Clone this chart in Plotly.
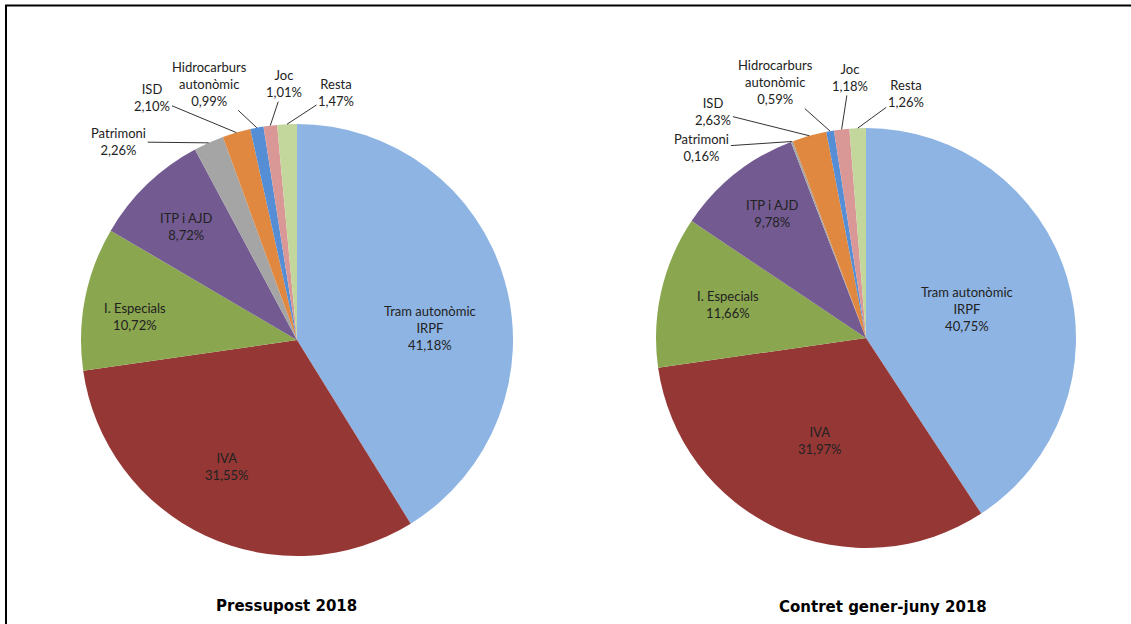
import numpy as np
import plotly.graph_objects as go

W, H = 1131, 624

labels = ["Tram autonòmic<br>IRPF", "IVA", "I. Especials", "ITP i AJD", "Patrimoni",
          "ISD", "Hidrocarburs<br>autonòmic", "Joc", "Resta"]
pressupost = [41.18, 31.55, 10.72, 8.72, 2.26, 2.10, 0.99, 1.01, 1.47]
contret = [40.75, 31.97, 11.66, 9.78, 0.16, 2.63, 0.59, 1.18, 1.26]
titles = ["Pressupost 2018", "Contret gener-juny 2018"]

colors = ["#8EB4E3", "#953735", "#8AA64F", "#735A91", "#A5A5A5",
          "#E0883F", "#558ED5", "#D99795", "#C3D69B"]

# pie placement in pixels: centre x, centre y, radius
pies = [(297, 340, 216), (866, 338, 210)]
# label offsets (px) from the middle of each slice's rim; first four sit inside
offsets = [
    [(-75, 47), (21, -69), (50, 18), (39, 42), (-90, -1), (-84, -35), (-47, -44), (14, -42), (49, -32)],
    [(-100, 31), (40, -89), (67, 13), (37, 40), (-90, 6), (-96, -24), (-55, -49), (8, -52), (48, -35)],
]
inside = [True, True, True, True, False, False, False, False, False]
title_pos = [(286, 606), (883, 607)]

fig = go.Figure()
annotations = []
for k, values in enumerate([pressupost, contret]):
    cx, cy, r = pies[k]
    fig.add_trace(go.Pie(
        labels=[l.replace("<br>", " ") for l in labels], values=values,
        sort=False, direction="clockwise", rotation=0,
        marker=dict(colors=colors, line=dict(width=0)),
        textinfo="none", showlegend=False,
        domain=dict(x=[(cx - r) / W, (cx + r) / W], y=[1 - (cy + r) / H, 1 - (cy - r) / H]),
    ))
    vals = np.array(values) / np.sum(values)
    ends = np.cumsum(vals)
    mids = (ends - vals / 2) * 2 * np.pi
    for i, lab in enumerate(labels):
        px = cx + r * np.sin(mids[i])
        py = cy - r * np.cos(mids[i])
        txt = lab + "<br>" + f"{values[i]:.2f}".replace(".", ",") + "%"
        dx, dy = offsets[k][i]
        a = dict(x=px / W, y=1 - py / H, xref="paper", yref="paper", text=txt,
                 xanchor="center", yanchor="middle",
                 font=dict(family="Lato", size=13, color="#222222"))
        if inside[i]:
            a.update(showarrow=False, xshift=dx, yshift=-dy)
        else:
            a.update(showarrow=True, arrowhead=0, arrowwidth=1, arrowcolor="#333333",
                     ax=dx, ay=dy, standoff=0)
        annotations.append(a)
    tx, ty = title_pos[k]
    annotations.append(dict(x=tx / W, y=1 - ty / H, xref="paper", yref="paper",
                            xanchor="center", yanchor="middle",
                            text="<b>" + titles[k] + "</b>", showarrow=False,
                            font=dict(family="DejaVu Sans", size=15, color="#000000")))

fig.update_layout(
    width=W, height=H,
    margin=dict(l=0, r=0, t=0, b=0),
    paper_bgcolor="white", plot_bgcolor="white",
    annotations=annotations,
    shapes=[dict(type="rect", xref="paper", yref="paper",
                 x0=6 / W, x1=1.05, y0=-0.05, y1=1 - 5.5 / H,
                 line=dict(color="#000000", width=2))],
)

fig.write_html("out.html", config={"displayModeBar": False},
               post_script="document.body.style.margin = '0';")
